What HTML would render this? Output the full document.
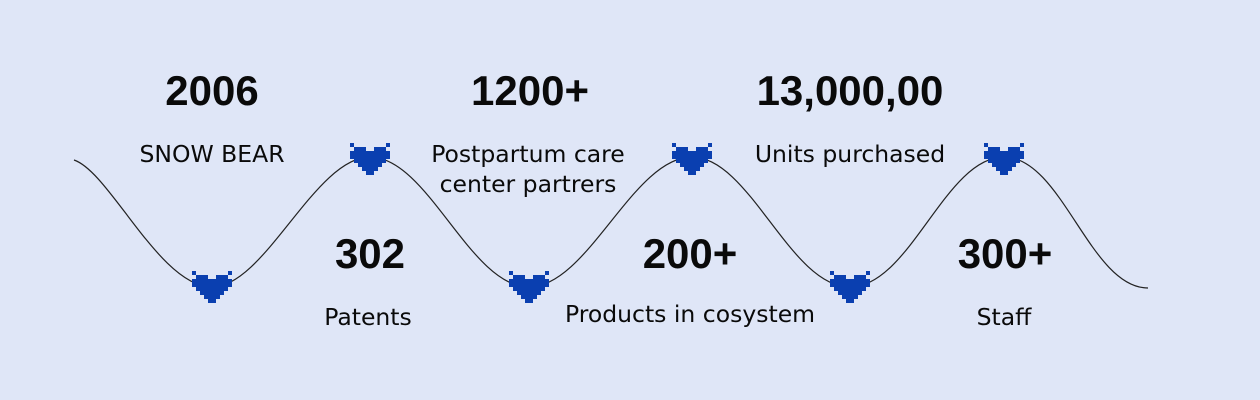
<!DOCTYPE html>
<html><head><meta charset="utf-8"><style>
html,body{margin:0;padding:0;background:#dfe6f7;}
svg{display:block}
text{font-family:"Liberation Sans",sans-serif;fill:#0a0a0a;text-anchor:middle}
.n{font-weight:bold;font-size:42px}
.l{font-family:"DejaVu Sans",sans-serif;font-size:23.5px}
</style></head><body>
<svg width="1260" height="400" viewBox="0 0 1260 400" xmlns="http://www.w3.org/2000/svg">
<defs>
<g id="h" fill="#0a3fb0">
<rect x="-20" y="-4" width="4" height="4"/><rect x="16" y="-4" width="4" height="4"/>
<rect x="-16" y="0" width="12" height="4"/><rect x="4" y="0" width="12" height="4"/>
<rect x="-20" y="4" width="40" height="8"/>
<rect x="-16" y="12" width="32" height="4"/>
<rect x="-12" y="16" width="24" height="4"/>
<rect x="-8" y="20" width="16" height="4"/>
<rect x="-4" y="24" width="8" height="4"/>
</g>
</defs>
<path d="M74,160 C110,172 160,287 212,287 C265,287 315,157 370,157 C428,157 470,287 529,287 C588,287 633,157 692,157 C750,157 790,287 850,287 C910,287 945,157 1004,157 C1062,157 1090,288 1148,288" fill="none" stroke="#222" stroke-width="1.2"/>
<use href="#h" x="212" y="275"/>
<use href="#h" x="529" y="275"/>
<use href="#h" x="850" y="275"/>
<use href="#h" x="370" y="147"/>
<use href="#h" x="692" y="147"/>
<use href="#h" x="1004" y="147"/>
<text class="n" x="212" y="105">2006</text>
<text class="l" x="212" y="162">SNOW BEAR</text>
<text class="n" x="530" y="105">1200+</text>
<text class="l" x="528" y="162">Postpartum care</text>
<text class="l" x="528" y="192">center partrers</text>
<text class="n" x="850" y="105">13,000,00</text>
<text class="l" x="850" y="162">Units purchased</text>
<text class="n" x="370" y="268">302</text>
<text class="l" x="368" y="325">Patents</text>
<text class="n" x="690" y="268">200+</text>
<text class="l" x="690" y="322">Products in cosystem</text>
<text class="n" x="1005" y="268">300+</text>
<text class="l" x="1004" y="325">Staff</text>
</svg>
</body></html>
